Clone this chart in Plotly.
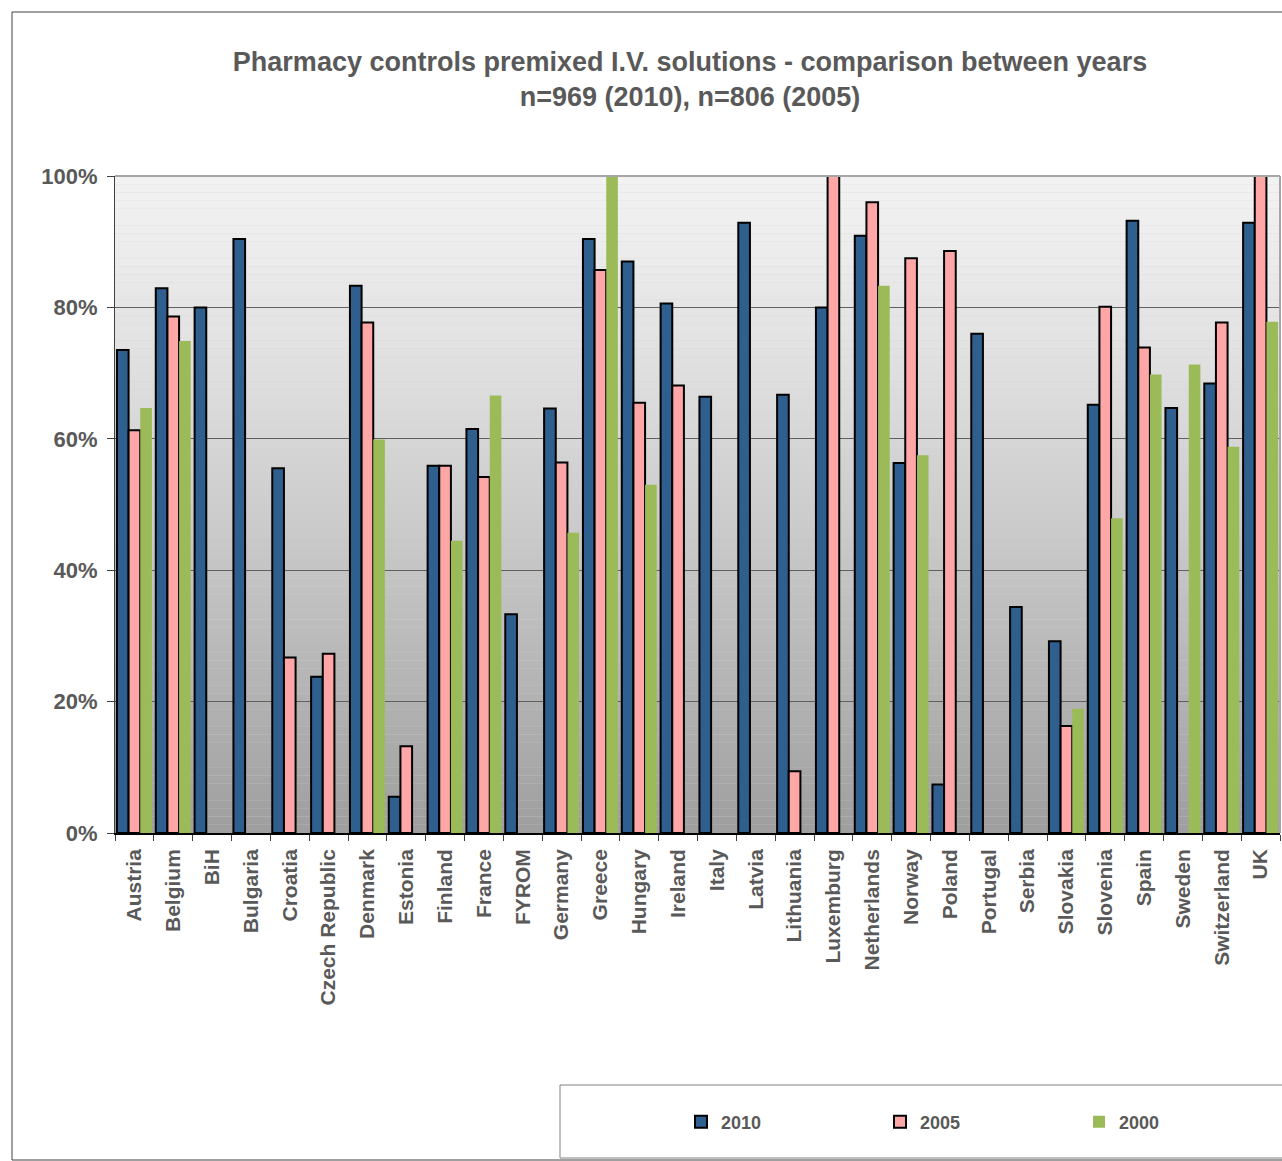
import plotly.graph_objects as go

countries = ["Austria", "Belgium", "BiH", "Bulgaria", "Croatia", "Czech Republic", "Denmark",
             "Estonia", "Finland", "France", "FYROM", "Germany", "Greece", "Hungary", "Ireland",
             "Italy", "Latvia", "Lithuania", "Luxemburg", "Netherlands", "Norway", "Poland",
             "Portugal", "Serbia", "Slovakia", "Slovenia", "Spain", "Sweden", "Switzerland", "UK"]

v2010 = [0.735, 0.829, 0.800, 0.904, 0.555, 0.238, 0.833, 0.055, 0.559, 0.615, 0.333, 0.646,
         0.904, 0.870, 0.806, 0.664, 0.929, 0.667, 0.800, 0.909, 0.563, 0.074, 0.760, 0.344,
         0.292, 0.652, 0.932, 0.647, 0.684, 0.929]
v2005 = [0.613, 0.786, None, None, 0.267, 0.273, 0.777, 0.132, 0.559, 0.542, None, 0.564,
         0.857, 0.655, 0.681, None, None, 0.094, 1.000, 0.960, 0.875, 0.886, None, None,
         0.163, 0.801, 0.739, None, 0.777, 1.000]
v2000 = [0.647, 0.749, None, None, None, None, 0.599, None, 0.445, 0.666, None, 0.457,
         1.000, 0.530, None, None, None, None, None, 0.833, 0.575, None, None, None,
         0.189, 0.479, 0.698, 0.713, 0.588, 0.778]

y_ticks = [0, 0.2, 0.4, 0.6, 0.8, 1.0]
series_names = ["2010", "2005", "2000"]
series_colors = ["#2F5F8F", "#FFA6A6", "#9BBB59"]
series_outline = [2, 2, 0]

W, H = 1282, 1161
L, R, T, B = 115, 1280, 176, 833
TXT = "#595959"
FONT = "Liberation Sans, Arial, sans-serif"


def px_x(p):
    return (p - L) / (R - L)


def px_y(p):
    return (B - p) / (B - T)


fig = go.Figure()
for name, vals, col, lw in zip(series_names, [v2010, v2005, v2000], series_colors, series_outline):
    fig.add_trace(go.Bar(
        x=countries, y=vals, name=f"<b>{name}</b>",
        marker=dict(color=col, line=dict(color="black", width=lw)),
    ))

shapes = []
# gradient plot background
N = 80
for i in range(N):
    f = 1 - (i + 0.5) / N  # fraction from top
    v = int(round(242 - 84 * (f ** 1.2)))
    shapes.append(dict(type="rect", xref="x domain", yref="y domain",
                       x0=0, x1=1, y0=i / N, y1=(i + 1) / N,
                       fillcolor=f"rgb({v},{v},{v})", line=dict(width=0), layer="below"))
# top & right plot borders
shapes.append(dict(type="line", xref="x domain", yref="y domain", x0=0, x1=1, y0=1, y1=1,
                   line=dict(color="#A6A6A6", width=2), layer="above"))
shapes.append(dict(type="line", xref="x domain", yref="y domain", x0=1, x1=1, y0=0, y1=1,
                   line=dict(color="#A6A6A6", width=2), layer="above"))
# outer chart frame
shapes.append(dict(type="rect", xref="paper", yref="paper",
                   x0=px_x(12), x1=px_x(1295), y0=px_y(1160), y1=px_y(12),
                   line=dict(color="#404040", width=1), fillcolor="rgba(0,0,0,0)", layer="below"))
# legend box
shapes.append(dict(type="rect", xref="paper", yref="paper",
                   x0=px_x(560), x1=px_x(1295), y0=px_y(1158), y1=px_y(1085),
                   line=dict(color="#808080", width=1), fillcolor="white", layer="below"))

fig.update_layout(
    width=W, height=H,
    margin=dict(l=L, r=W - R, t=T, b=H - B, pad=0),
    paper_bgcolor="white",
    plot_bgcolor="#d0d0d0",
    barmode="group",
    bargap=0.1,
    bargroupgap=0,
    font=dict(family=FONT, color=TXT),
    title=dict(
        text="<b>Pharmacy controls premixed I.V. solutions - comparison between years<br>n=969 (2010), n=806 (2005)</b>",
        x=690 / W, xanchor="center",
        y=1 - 71 / H, yanchor="middle", yref="container",
        font=dict(size=27, color=TXT, family=FONT),
    ),
    shapes=shapes,
    showlegend=True,
    legend=dict(
        orientation="h", x=px_x(681), xanchor="left", y=px_y(1122), yanchor="middle",
        entrywidth=154, entrywidthmode="pixels",
        font=dict(size=18, color=TXT, family=FONT),
        bgcolor="rgba(0,0,0,0)", borderwidth=0,
        traceorder="normal",
    ),
)

fig.update_yaxes(
    range=[0, 1],
    tickvals=y_ticks,
    ticktext=[f"<b>{int(round(v * 100))}%</b>" for v in y_ticks],
    showgrid=True, gridcolor="#606060", gridwidth=1,
    zeroline=False,
    showline=True, linecolor="#404040", linewidth=1,
    ticks="outside", ticklen=7, tickcolor="#404040",
    tickfont=dict(size=22, color=TXT, family=FONT),
    ticklabelstandoff=5,
)
fig.update_xaxes(
    tickvals=countries, ticktext=[f"<b>{c}</b>" for c in countries],
    tickangle=-90,
    tickson="boundaries", ticks="outside", ticklen=6, tickcolor="#404040",
    showline=True, linecolor="black", linewidth=1.5,
    showgrid=False,
    tickfont=dict(size=21, color=TXT, family=FONT),
    ticklabelstandoff=6,
)

fig.write_html("out.html", config={"displayModeBar": False},
               post_script="document.body.style.margin='0';")
